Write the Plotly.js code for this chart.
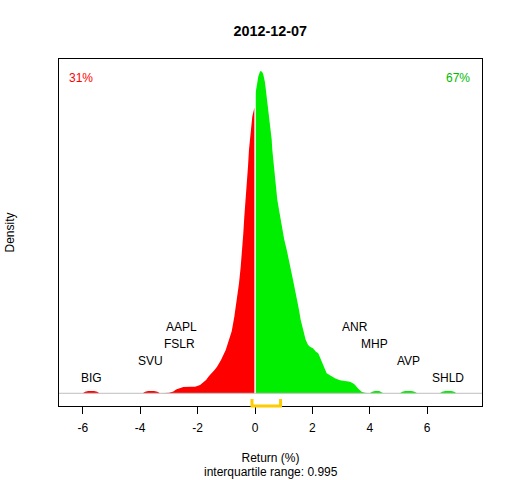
<!DOCTYPE html>
<html>
<head>
<meta charset="utf-8">
<script src="https://cdn.plot.ly/plotly-3.0.1.min.js"></script>
<style>html,body{margin:0;padding:0;background:#fff}#chart{width:512px;height:480px}</style>
</head>
<body>
<div id="chart"></div>
<script>
// Density estimate of daily returns, split at zero
var redX = [-6.00,-5.92,-5.81,-5.61,-5.50,-5.42,
            -3.91,-3.83,-3.72,-3.52,-3.40,-3.31,
            -2.99,-2.925,-2.845,-2.751,-2.671,-2.577,-2.497,-2.263,-2.089,-1.915,-1.800,-1.706,-1.602,-1.508,-1.410,-1.323,-1.184,-1.020,-0.905,-0.811,-0.721,-0.627,-0.557,-0.498,-0.442,-0.407,-0.373,-0.324,-0.279,-0.244,-0.209,-0.150,-0.094,-0.024,-0.012];
var redY = [0,0.003,0.0046,0.0046,0.003,0,
            0,0.003,0.0046,0.0046,0.003,0,
            0.0012,0.0026,0.0036,0.0076,0.0092,0.0116,0.0126,0.013,0.0132,0.0166,0.0226,0.0266,0.0346,0.040,0.0466,0.0532,0.0666,0.0866,0.1066,0.124,0.153,0.187,0.220,0.253,0.287,0.320,0.353,0.387,0.420,0.453,0.487,0.520,0.553,0.570,0.570];
var greenX = [0.02,0.035,0.080,0.115,0.174,0.209,0.261,0.289,0.348,0.407,0.463,0.512,0.557,0.581,0.602,0.637,0.662,0.696,0.731,0.776,0.836,0.895,0.951,1.020,1.104,1.184,1.253,1.323,1.393,1.473,1.532,1.591,1.682,1.765,1.845,1.915,2.019,2.124,2.204,2.298,2.378,2.497,2.611,2.786,2.960,3.134,3.308,3.412,3.482,3.597,3.715,3.830,3.900,
              4.00,4.08,4.18,4.33,4.40,4.47,
              5.05,5.13,5.24,5.45,5.56,5.65,
              6.44,6.52,6.63,6.84,6.94,7.02];
var greenY = [0.600,0.607,0.627,0.633,0.643,0.644,0.641,0.637,0.621,0.593,0.567,0.547,0.527,0.507,0.487,0.467,0.447,0.427,0.407,0.387,0.367,0.347,0.327,0.307,0.287,0.267,0.247,0.227,0.207,0.187,0.167,0.147,0.127,0.107,0.097,0.093,0.090,0.083,0.080,0.067,0.053,0.040,0.036,0.030,0.026,0.025,0.023,0.020,0.017,0.009,0.003,0.001,0,
              0,0.003,0.0046,0.0046,0.003,0,
              0,0.003,0.0046,0.0046,0.003,0,
              0,0.003,0.0046,0.0046,0.003,0];

// Labelled extreme movers
var downTickers = ["BIG","SVU","FSLR","AAPL"];
var downReturns = [-5.71,-3.63,-2.64,-2.57];
var upTickers = ["SHLD","AVP","MHP","ANR"];
var upReturns = [6.73,5.36,4.18,3.48];

var q1 = -0.105, q3 = 0.89;       // interquartile range bounds
var iqrText = "0.995";
var pctDown = "31%", pctUp = "67%";
var tickVals = [-6,-4,-2,0,2,4,6];
var titleText = "2012-12-07";

var FONT = "Liberation Sans, Arial, sans-serif";
var yMin = -0.0254, yMax = 0.668;

var traces = [
  {x: redX, y: redY, type: "scatter", mode: "lines", fill: "tozeroy",
   fillcolor: "#FF0000", line: {width: 0, color: "#FF0000"}, hoverinfo: "skip"},
  {x: greenX, y: greenY, type: "scatter", mode: "lines", fill: "tozeroy",
   fillcolor: "#00EE00", line: {width: 0, color: "#00EE00"}, hoverinfo: "skip"}
];

var annotations = [];
function levelY(i){ return 0.0315 + 0.0335 * i; }
downTickers.forEach(function(t, i){
  annotations.push({x: downReturns[i], y: levelY(i), xref: "x", yref: "y", text: t,
    showarrow: false, xanchor: "center", yanchor: "middle", font: {family: FONT, size: 12, color: "#000"}});
});
upTickers.forEach(function(t, i){
  annotations.push({x: upReturns[i], y: levelY(i), xref: "x", yref: "y", text: t,
    showarrow: false, xanchor: "center", yanchor: "middle", font: {family: FONT, size: 12, color: "#000"}});
});
annotations.push({x: 0.018, y: 0.945, xref: "paper", yref: "paper", text: pctDown, showarrow: false,
  xanchor: "left", yanchor: "middle", font: {family: FONT, size: 12, color: "#FF0000"}});
annotations.push({x: 0.9757, y: 0.945, xref: "paper", yref: "paper", text: pctUp, showarrow: false,
  xanchor: "right", yanchor: "middle", font: {family: FONT, size: 12, color: "#00BB00"}});
annotations.push({x: 0.5, y: -0.1895, xref: "paper", yref: "paper", text: "interquartile range: " + iqrText,
  showarrow: false, xanchor: "center", yanchor: "middle", font: {family: FONT, size: 12, color: "#000"}});

var shapes = [
  {type: "line", xref: "paper", yref: "y", x0: 0, x1: 1, y0: 0, y1: 0,
   line: {color: "#BEBEBE", width: 1}, layer: "above"},
  {type: "line", xref: "x", yref: "y", x0: 0, x1: 0, y0: 0, y1: yMax,
   line: {color: "#FFFFFF", width: 1}, layer: "above"},
  {type: "path", xref: "x", yref: "paper", layer: "above",
   path: "M" + q1 + ",0.0205 L" + q1 + ",0 L" + q3 + ",0 L" + q3 + ",0.0205",
   line: {color: "#FFCC00", width: 3}}
];

var layout = {
  width: 512, height: 480,
  margin: {l: 59, r: 30, t: 59, b: 74},
  paper_bgcolor: "#FFFFFF", plot_bgcolor: "#FFFFFF",
  showlegend: false,
  font: {family: FONT, size: 12, color: "#000"},
  title: {text: "<b>" + titleText + "</b>", font: {family: FONT, size: 14.4, color: "#000"},
          x: 0.528, xanchor: "center", y: 0.935, yanchor: "middle", xref: "container", yref: "container"},
  xaxis: {range: [-6.829, 7.909], tickvals: tickVals, ticktext: tickVals.map(String),
          showline: true, mirror: true, linecolor: "#000", linewidth: 1,
          ticks: "outside", ticklen: 7, tickcolor: "#000", tickwidth: 1, ticklabelstandoff: 4,
          showgrid: false, zeroline: false, tickfont: {family: FONT, size: 12, color: "#000"},
          title: {text: "Return (%)", font: {family: FONT, size: 12, color: "#000"}, standoff: 19}},
  yaxis: {range: [yMin, yMax], showline: true, mirror: true, linecolor: "#000", linewidth: 1,
          ticks: "", showticklabels: false, showgrid: false, zeroline: false,
          title: {text: "Density", font: {family: FONT, size: 12, color: "#000"}, standoff: 40}},
  annotations: annotations,
  shapes: shapes
};

Plotly.newPlot("chart", traces, layout, {staticPlot: true, displayModeBar: false});
</script>
</body>
</html>
